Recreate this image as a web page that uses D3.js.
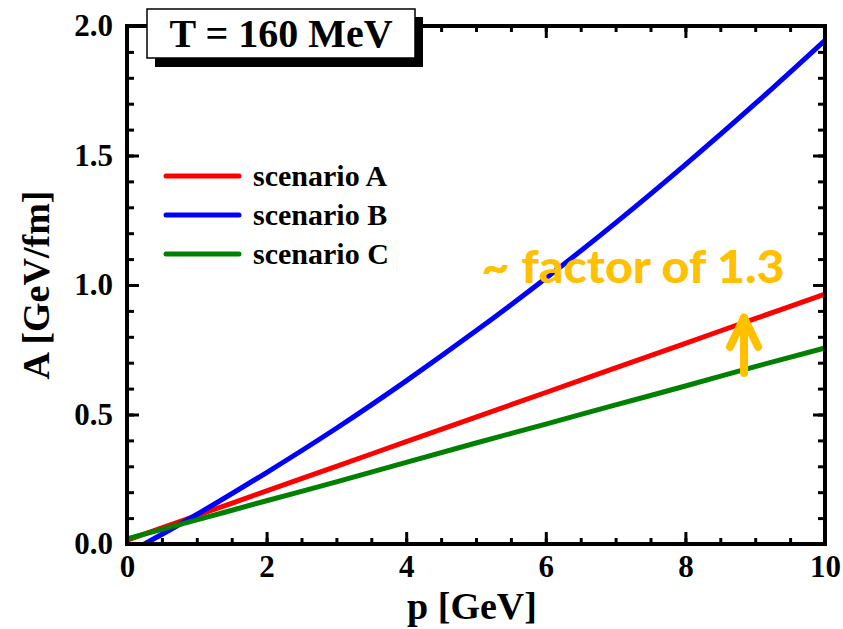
<!DOCTYPE html>
<html>
<head>
<meta charset="utf-8">
<script src="https://cdn.jsdelivr.net/npm/d3@7"></script>
<style>
  body { margin: 0; background: #fff; }
  svg { display: block; }
  .tick text { font-family: "Liberation Serif", "Times New Roman", serif; font-weight: bold; }
</style>
</head>
<body>
<div id="chart"></div>
<script>
// Data
const momentum = [0, 1, 2, 3, 4, 5, 6, 7, 8, 9, 10];
const scenarioA = [0.015, 0.11, 0.205, 0.30, 0.395, 0.49, 0.585, 0.68, 0.775, 0.87, 0.965];
const scenarioC = [0.02, 0.093, 0.167, 0.24, 0.315, 0.39, 0.463, 0.537, 0.61, 0.685, 0.757];
const momentumB = [0.25, 1, 2, 3, 4, 5, 6, 7, 8, 9, 10];
const scenarioB = [0, 0.114, 0.276, 0.447, 0.63, 0.823, 1.026, 1.24, 1.465, 1.70, 1.945];

const xTicks = [0, 2, 4, 6, 8, 10];
const yTicks = [0.0, 0.5, 1.0, 1.5, 2.0];
const legendNames = ["scenario A", "scenario B", "scenario C"];
const colors = ["#ff0000", "#0000ff", "#008000"];
const arrowX = 8.84, arrowFrom = 0.66, arrowTo = 0.885;

const width = 843, height = 629;
const margin = {top: 26, right: 18, bottom: 85, left: 127};

const svg = d3.select("#chart").append("svg")
    .attr("width", width)
    .attr("height", height);

const x = d3.scaleLinear().domain([0, 10]).range([margin.left, width - margin.right]);
const y = d3.scaleLinear().domain([0, 2]).range([height - margin.bottom, margin.top]);

svg.append("clipPath").attr("id", "plot")
  .append("rect")
    .attr("x", x(0)).attr("y", y(2))
    .attr("width", x(10) - x(0)).attr("height", y(0) - y(2));

const series = [
  momentum.map((m, i) => [m, scenarioA[i]]),
  momentumB.map((m, i) => [m, scenarioB[i]]),
  momentum.map((m, i) => [m, scenarioC[i]])
];

const line = d3.line().x(d => x(d[0])).y(d => y(d[1])).curve(d3.curveNatural);

svg.append("g")
    .attr("clip-path", "url(#plot)")
  .selectAll("path")
  .data(series)
  .join("path")
    .attr("fill", "none")
    .attr("stroke", (d, i) => colors[i])
    .attr("stroke-width", 5)
    .attr("d", line);

// axes with inward ticks
const minorX = d3.range(0, 10.01, 0.5);
const minorY = d3.range(0, 2.001, 0.1);

function styleAxis(g) {
  g.select(".domain").remove();
  g.selectAll(".tick line").attr("stroke", "#000").attr("stroke-width", 3);
}

svg.append("g")
    .attr("transform", `translate(0,${y(0)})`)
    .call(d3.axisBottom(x).tickValues(minorX).tickSize(-6).tickFormat(""))
    .call(styleAxis);
svg.append("g")
    .attr("transform", `translate(0,${y(0)})`)
    .call(d3.axisBottom(x).tickValues(xTicks).tickSize(-12).tickPadding(30).tickFormat(d3.format("d")))
    .call(styleAxis)
    .call(g => g.selectAll(".tick text").attr("font-size", 31).attr("fill", "#000").attr("dy", "0.1em"));

svg.append("g")
    .attr("transform", `translate(0,${y(2)})`)
    .call(d3.axisTop(x).tickValues(minorX).tickSize(-6).tickFormat(""))
    .call(styleAxis);
svg.append("g")
    .attr("transform", `translate(0,${y(2)})`)
    .call(d3.axisTop(x).tickValues(xTicks).tickSize(-12).tickFormat(""))
    .call(styleAxis);

svg.append("g")
    .attr("transform", `translate(${x(0)},0)`)
    .call(d3.axisLeft(y).tickValues(minorY).tickSize(-7).tickFormat(""))
    .call(styleAxis);
svg.append("g")
    .attr("transform", `translate(${x(0)},0)`)
    .call(d3.axisLeft(y).tickValues(yTicks).tickSize(-12).tickPadding(14).tickFormat(d3.format(".1f")))
    .call(styleAxis)
    .call(g => g.selectAll(".tick text").attr("font-size", 31).attr("fill", "#000"));

svg.append("g")
    .attr("transform", `translate(${x(10)},0)`)
    .call(d3.axisRight(y).tickValues(minorY).tickSize(-7).tickFormat(""))
    .call(styleAxis);
svg.append("g")
    .attr("transform", `translate(${x(10)},0)`)
    .call(d3.axisRight(y).tickValues(yTicks).tickSize(-12).tickFormat(""))
    .call(styleAxis);

// frame
svg.append("rect")
    .attr("x", x(0)).attr("y", y(2))
    .attr("width", x(10) - x(0)).attr("height", y(0) - y(2))
    .attr("fill", "none")
    .attr("stroke", "#000")
    .attr("stroke-width", 4);

// axis titles
svg.append("text")
    .attr("x", (x(0) + x(10)) / 2 - 4)
    .attr("y", 619)
    .attr("text-anchor", "middle")
    .attr("font-family", "Liberation Serif, serif")
    .attr("font-weight", "bold")
    .attr("font-size", 38)
    .text("p [GeV]");

svg.append("text")
    .attr("transform", `translate(49,${y(1)}) rotate(-90)`)
    .attr("text-anchor", "middle")
    .attr("font-family", "Liberation Serif, serif")
    .attr("font-weight", "bold")
    .attr("font-size", 38)
    .text("A [GeV/fm]");

// legend
const legend = svg.append("g")
  .selectAll("g")
  .data(legendNames)
  .join("g")
    .attr("transform", (d, i) => `translate(166,${176 + i * 39})`);
legend.append("line")
    .attr("x1", 0).attr("x2", 73)
    .attr("stroke", (d, i) => colors[i])
    .attr("stroke-width", 5)
    .attr("stroke-linecap", "round");
legend.append("text")
    .attr("x", 87).attr("y", 10)
    .attr("font-family", "Liberation Serif, serif")
    .attr("font-weight", "bold")
    .attr("font-size", 30)
    .text(d => d);

// title box with shadow
svg.append("rect")
    .attr("x", 155).attr("y", 17).attr("width", 268).attr("height", 50)
    .attr("fill", "#000");
svg.append("rect")
    .attr("x", 147).attr("y", 9).attr("width", 268).attr("height", 49)
    .attr("fill", "#fff").attr("stroke", "#000").attr("stroke-width", 1.5);
svg.append("text")
    .attr("x", 281).attr("y", 47)
    .attr("text-anchor", "middle")
    .attr("font-family", "Liberation Serif, serif")
    .attr("font-weight", "bold")
    .attr("font-size", 40)
    .text("T = 160 MeV");

// annotation
const orange = "#ffc000";
svg.append("text")
    .attr("x", x(5.08)).attr("y", y(1.008))
    .attr("font-family", "Lato, sans-serif")
    .attr("font-weight", 900)
    .attr("font-size", 46)
    .attr("fill", orange)
    .attr("textLength", 303)
    .attr("lengthAdjust", "spacingAndGlyphs")
    .text("~ factor of 1.3");

const arrow = svg.append("g")
    .attr("stroke", orange)
    .attr("stroke-width", 8)
    .attr("stroke-linecap", "round")
    .attr("fill", "none");
arrow.append("line")
    .attr("x1", x(arrowX)).attr("x2", x(arrowX))
    .attr("y1", y(arrowFrom)).attr("y2", y(arrowTo) + 3);
arrow.append("path")
    .attr("stroke-linejoin", "round")
    .attr("d", `M${x(arrowX) - 14},${y(arrowTo) + 32} L${x(arrowX)},${y(arrowTo) + 3} L${x(arrowX) + 14},${y(arrowTo) + 32}`);
</script>
</body>
</html>
